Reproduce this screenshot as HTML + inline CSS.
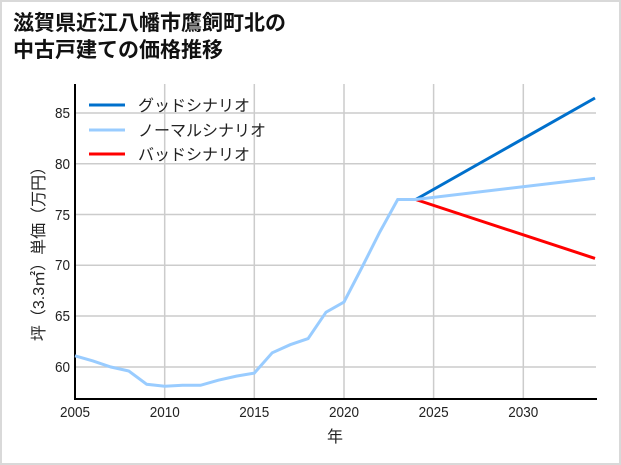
<!DOCTYPE html>
<html><head><meta charset="utf-8"><style>
html,body{margin:0;padding:0;background:#fff}
.wrap{position:relative;width:617px;height:461px;border:2px solid #d9d9d9;background:#fff;overflow:hidden}
svg{position:absolute;left:-2px;top:-2px}
text{font-family:"Liberation Sans","Noto Sans CJK JP",sans-serif}
</style></head><body><div class="wrap">
<svg width="621" height="465" viewBox="0 0 621 465">
<text x="13" y="30" font-size="21" font-weight="bold" fill="#111" font-family="Noto Sans CJK JP, sans-serif">滋賀県近江八幡市鷹飼町北の</text>
<text x="13" y="57" font-size="21" font-weight="bold" fill="#111" font-family="Noto Sans CJK JP, sans-serif">中古戸建ての価格推移</text>
<g stroke="#cccccc" stroke-width="1.5">
<line x1="164.7" y1="84" x2="164.7" y2="399"/><line x1="254.3" y1="84" x2="254.3" y2="399"/>
<line x1="344" y1="84" x2="344" y2="399"/><line x1="433.6" y1="84" x2="433.6" y2="399"/>
<line x1="523.3" y1="84" x2="523.3" y2="399"/>
<line x1="75" y1="113" x2="596" y2="113"/><line x1="75" y1="163.8" x2="596" y2="163.8"/>
<line x1="75" y1="214.5" x2="596" y2="214.5"/><line x1="75" y1="265.3" x2="596" y2="265.3"/>
<line x1="75" y1="316" x2="596" y2="316"/><line x1="75" y1="367" x2="596" y2="367"/>
</g>
<g stroke="#000" stroke-width="2"><line x1="75" y1="84" x2="75" y2="400"/><line x1="74" y1="399" x2="597" y2="399"/></g>
<g font-size="15" fill="#222" text-anchor="end">
<g transform="translate(70,0) scale(0.9,1)">
<text x="0" y="118">85</text><text x="0" y="169">80</text><text x="0" y="220">75</text>
<text x="0" y="270">70</text><text x="0" y="321">65</text><text x="0" y="372">60</text>
</g></g>
<g font-size="15" fill="#222" text-anchor="middle">
<text x="75" y="417" transform="translate(7.5,0) scale(0.9,1)">2005</text>
<text x="164.7" y="417" transform="translate(16.5,0) scale(0.9,1)">2010</text>
<text x="254.3" y="417" transform="translate(25.4,0) scale(0.9,1)">2015</text>
<text x="344" y="417" transform="translate(34.4,0) scale(0.9,1)">2020</text>
<text x="433.6" y="417" transform="translate(43.4,0) scale(0.9,1)">2025</text>
<text x="523.3" y="417" transform="translate(52.3,0) scale(0.9,1)">2030</text>
<text x="335" y="442" font-size="16">年</text>
</g>
<text transform="translate(44,250) rotate(-90)" font-size="16" fill="#222" text-anchor="middle">坪（3.3㎡）単価（万円）</text>
<polyline fill="none" stroke="#0070cc" stroke-width="3" points="415.7,199.5 595,98"/>
<polyline fill="none" stroke="#ff0000" stroke-width="3" points="415.7,199.5 595,258.4"/>
<polyline fill="none" stroke="#99ccff" stroke-width="3" points="75,355.8 92.9,360.9 110.9,367 128.8,371 146.7,384.3 164.7,386.3 182.6,385.3 200.5,385.3 218.4,380.2 236.4,376.1 254.3,373.1 272.2,352.8 290.2,344.7 308.1,338.6 326,312.2 344,302 361.9,267.5 379.8,232 397.7,199.5 415.7,199.5 595,178.2"/>
<g stroke-width="3">
<line x1="89" y1="105" x2="125" y2="105" stroke="#0070cc"/>
<line x1="89" y1="130" x2="125" y2="130" stroke="#99ccff"/>
<line x1="89" y1="154" x2="125" y2="154" stroke="#ff0000"/>
</g>
<g font-size="16" fill="#222">
<text x="138" y="111">グッドシナリオ</text>
<text x="138" y="136">ノーマルシナリオ</text>
<text x="138" y="160">バッドシナリオ</text>
</g>
</svg></div></body></html>
